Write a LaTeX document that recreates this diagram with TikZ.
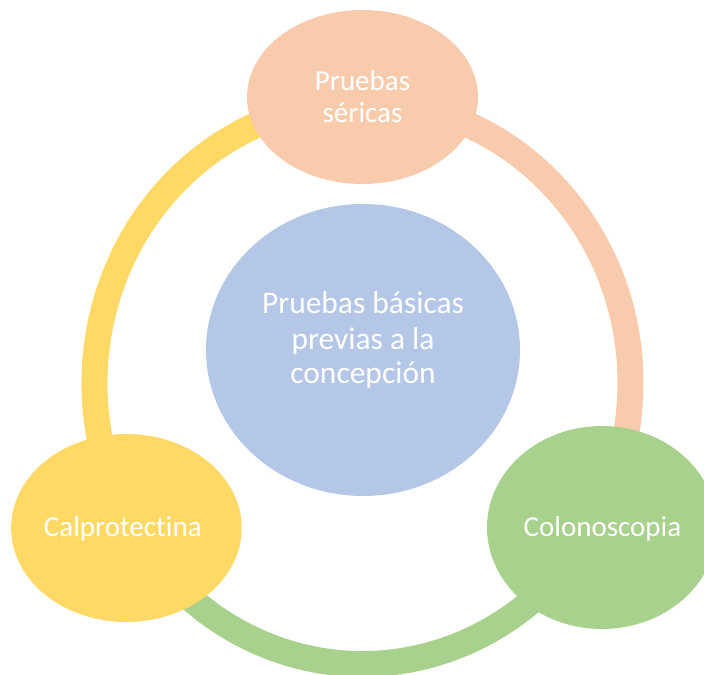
\documentclass[tikz,border=0pt]{standalone}
\usepackage{fontspec}
\setmainfont{Carlito}[RawFeature={-liga}]
\usetikzlibrary{shapes.geometric}
\definecolor{cpeach}{HTML}{F8CBAD}
\definecolor{cyellow}{HTML}{FFD966}
\definecolor{cgreen}{HTML}{A9D18E}
\definecolor{cblue}{HTML}{B4C7E7}
\tikzset{
  blob/.style={ellipse, draw=none, inner sep=0pt},
  ringarc/.style={line width=19.5pt},
  lbl/.style={text=white, anchor=base, inner sep=0pt, font=\fontsize{21.75}{24}\selectfont},
  lblc/.style={text=white, anchor=base, inner sep=0pt, font=\fontsize{23.6}{26}\selectfont}
}
\begin{document}
\begin{tikzpicture}[x=0.75pt,y=0.75pt]
\useasboundingbox (0,0) rectangle (704,675);
\clip (0,0) rectangle (704,675);
\coordinate (ring) at (362.5,292);
% ring arcs
\draw[ringarc, cyellow] ([shift={(208.2:268 and 281)}]ring) arc[start angle=208.2, end angle=90, x radius=268, y radius=281];
\draw[ringarc, cpeach] ([shift={(90:268 and 281)}]ring) arc[start angle=90, end angle=-26.6, x radius=268, y radius=281];
\draw[ringarc, cgreen] ([shift={(333.4:268 and 281)}]ring) arc[start angle=333.4, end angle=208.2, x radius=268, y radius=281];
% nodes
\node[blob, fill=cpeach, minimum width=173.25pt, minimum height=130.5pt] (top) at (362.5,578) {};
\node[blob, fill=cblue, minimum width=235.5pt, minimum height=219pt] (mid) at (363,325) {};
\node[blob, fill=cyellow, minimum width=172.95pt, minimum height=141pt] (left) at (126.4,147) {};
\node[blob, fill=cgreen, minimum width=172.5pt, minimum height=152.25pt] (right) at (602,147.5) {};
% labels
\node[lbl] (t1) at (362.5,584) {Pruebas};
\node[lbl] (t2) at (362.5,552.3) {séricas};
\node[lblc] (m1) at (363,361) {Pruebas básicas};
\node[lblc] (m2) at (363,325.5) {previas a la};
\node[lblc] (m3) at (363,291) {concepción};
\node[lbl] (l1) at (122.8,138.3) {Calprotectina};
\node[lbl] (r1) at (602.5,138.3) {Colonoscopia};
\end{tikzpicture}
\end{document}
